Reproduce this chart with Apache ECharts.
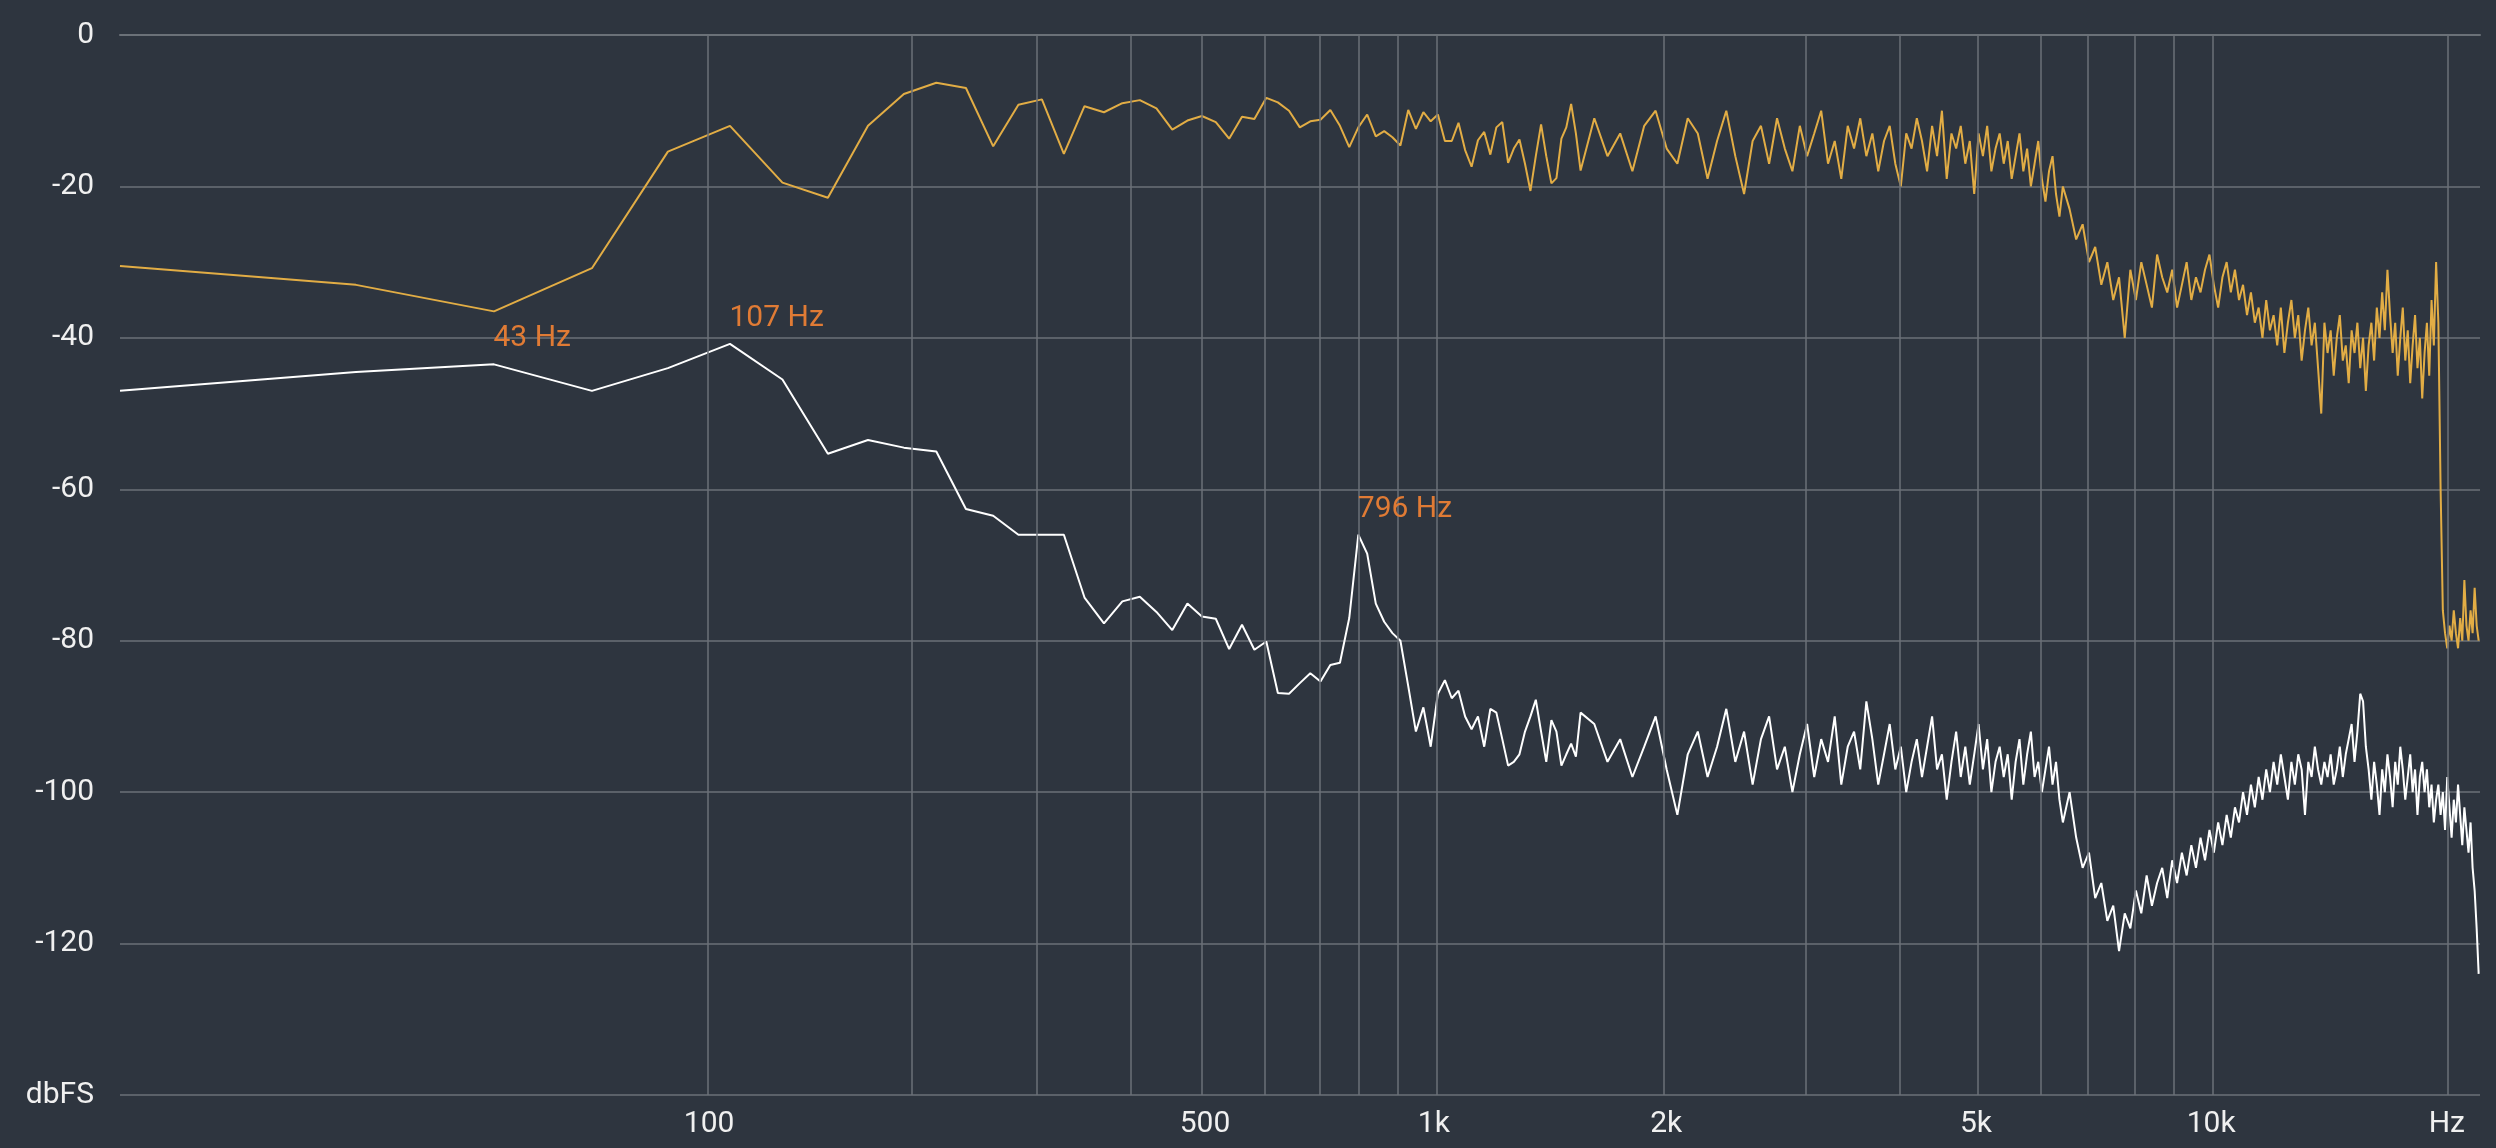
<!DOCTYPE html>
<html>
<head>
<meta charset="utf-8">
<script src="https://cdn.jsdelivr.net/npm/echarts@6/dist/echarts.min.js"></script>
<style>html,body{margin:0;padding:0;background:#2e353f}#main{width:2496px;height:1148px}</style>
</head>
<body>
<div id="main"></div>
<script>
var myChart = echarts.init(document.getElementById('main'));

// FFT bin width (44100 / 2048)
var binHz = 21.533;

// bins 0..72, one value each
var lowWhite = [-47,-44.5,-43.5,-47,-44,-40.8,-45.5,-55.3,-53.5,-54.5,-55,-62.6,-63.5,-66,-66,-66,-74.3,-77.7,-74.8,-74.2,
  -76.2,-78.6,-75.1,-76.8,-77.1,-81.1,-77.9,-81.2,-80.1,-86.9,-87,-85.6,-84.3,-85.4,-83.2,-82.9,-77,-66,-68.5,-75.1,
  -77.5,-79,-80,-86,-92,-88.8,-94,-87,-85.2,-87.6,-86.6,-90,-91.7,-90,-94,-89,-89.5,-93,-96.5,-96,
  -95,-92,-90,-87.8,-92,-96,-90.5,-92,-96.5,-95,-93.6,-95.3,-89.5];
var lowOrange = [-30.5,-33,-36.5,-30.8,-15.4,-12,-19.5,-21.5,-12,-7.8,-6.3,-7,-14.7,-9.2,-8.5,-15.7,-9.4,-10.2,-9,-8.6,
  -9.7,-12.5,-11.3,-10.7,-11.5,-13.7,-10.8,-11.1,-8.3,-8.9,-10,-12.2,-11.4,-11.2,-9.9,-12,-14.8,-12.2,-10.5,-13.4,
  -12.7,-13.5,-14.6,-9.9,-12.4,-10.2,-11.4,-10.5,-14,-14,-11.6,-15.2,-17.4,-13.9,-12.8,-15.8,-12.2,-11.5,-16.9,-15,
  -13.8,-17,-20.6,-16,-11.8,-16,-19.6,-18.9,-13.7,-12.2,-9.1,-13,-17.9];

// bins 75..300, every 3rd bin
var midOrange = [-11,-16,-13,-18,-12,-10,-15,-17,-11,-13,-19,-14,-10,-16,-21,-14,-12,-17,-11,-15,
  -18,-12,-16,-13,-10,-17,-14,-19,-12,-15,-11,-16,-13,-18,-14,-12,-17,-20,-13,-15,
  -11,-14,-18,-12,-16,-10,-19,-13,-15,-12,-17,-14,-21,-13,-16,-12,-18,-15,-13,-17,
  -14,-19,-16,-13,-18,-15,-20,-17,-14,-19,-22,-18,-16,-21,-24,-20];
var midWhite = [-91,-96,-93,-98,-94,-90,-97,-103,-95,-92,-98,-94,-89,-96,-92,-99,-93,-90,-97,-94,
  -100,-95,-91,-98,-93,-96,-90,-99,-94,-92,-97,-88,-93,-99,-95,-91,-97,-94,-100,-96,
  -93,-98,-94,-90,-97,-95,-101,-96,-92,-98,-94,-99,-95,-91,-97,-93,-100,-96,-94,-98,
  -95,-101,-96,-93,-99,-95,-92,-98,-96,-100,-97,-94,-99,-96,-101,-104];

// bins 306..1020, every 6th bin
var highOrange = [-23,-27,-25,-30,-28,-33,-30,-35,-32,-40,
  -31,-35,-30,-33,-36,-29,-32,-34,-31,-36,-33,-30,-35,-32,-34,-31,-29,-33,-36,-32,-30,-34,-31,-35,-33,-37,
  -34,-38,-36,-40,-35,-39,-37,-41,-36,-42,-38,-35,-40,-37,-43,-39,-36,-41,-38,-44,
  -50,
  -38,-42,-39,-45,-40,-37,-43,-41,-46,-39,-42,-38,-44,-40,-47,-41,-38,-43,-36,-40,
  -34,-39,-31,-37,-42,-38,-45,-40,-36,-43,-39,-46,-41,-37,-44,-40,-48,-42,-38,-45,-35,-41,-30,
  -38,-60,-76,-79,-81,-78,-80,-76,-79,-81,-77,-80,-72,-78,-80,-76,-79,-73,-78,-80];
var highWhite = [-100,-106,-110,-108,-114,-112,-117,-115,-121,-116,
  -118,-113,-116,-111,-115,-112,-110,-114,-109,-112,-108,-111,-107,-110,-106,-109,-105,-108,-104,-107,-103,-106,-102,-104,-100,-103,
  -99,-102,-98,-101,-97,-100,-96,-99,-95,-98,-101,-96,-99,-95,-97,-103,-96,-98,-94,-97,
  -99,
  -96,-98,-95,-99,-97,-94,-98,-95,-93,-91,-96,-92,-87,-88,-94,-97,-101,-96,-99,-103,
  -97,-100,-95,-98,-102,-96,-99,-94,-97,-101,-98,-95,-100,-97,-103,-98,-96,-100,-97,-102,-99,-104,-101,
  -99,-103,-100,-105,-98,-102,-106,-101,-104,-99,-103,-107,-102,-105,-108,-104,-110,-113,-118,-124];

var peakBins = [2, 5, 37];
var gridFreqs = [100,200,300,400,500,600,700,800,900,1000,2000,3000,4000,5000,6000,7000,8000,9000,10000,20000];
var labelFreqs = [100, 500, 1000, 2000, 5000, 10000, 20000];
var labelTexts = ['100', '500', '1k', '2k', '5k', '10k', 'Hz'];

function fx(f) { return Math.log10(f / binHz + 1); }

function build(low, mid, high) {
    var out = [];
    for (var i = 0; i < low.length; i++) out.push([Math.log10(i + 1), low[i]]);
    for (var j = 0; j < mid.length; j++) out.push([Math.log10(75 + 3 * j + 1), mid[j]]);
    for (var k = 0; k < high.length; k++) out.push([Math.log10(306 + 6 * k + 1), high[k]]);
    return out;
}

var whiteData = build(lowWhite, midWhite, highWhite);
var orangeData = build(lowOrange, midOrange, highOrange);

var labelVals = labelFreqs.map(fx);

var option = {
    backgroundColor: '#2e353f',
    animation: false,
    grid: { left: 120, right: 16, top: 35, bottom: 53 },
    xAxis: {
        type: 'value',
        min: 0,
        max: Math.log10(1025),
        axisLine: { lineStyle: { color: '#6b7178', width: 2 } },
        axisTick: { show: false },
        splitLine: { show: false },
        axisLabel: {
            customValues: labelVals,
            color: '#f0f0f0',
            fontSize: 30,
            fontFamily: 'Roboto',
            margin: 14,
            formatter: function (v) {
                for (var i = 0; i < labelVals.length; i++) {
                    if (Math.abs(labelVals[i] - v) < 1e-6) return labelTexts[i];
                }
                return '';
            }
        }
    },
    yAxis: {
        type: 'value',
        min: -140,
        max: 0,
        interval: 20,
        axisLine: { show: false },
        axisTick: { show: false },
        splitLine: { lineStyle: { color: '#6b7178', width: 1.5 } },
        axisLabel: {
            color: '#f0f0f0',
            fontSize: 30,
            fontFamily: 'Roboto',
            margin: 26,
            formatter: function (v) { return v === -140 ? 'dbFS' : v; }
        }
    },
    series: [{
        name: 'orange',
        type: 'line',
        data: orangeData,
        showSymbol: false,
        lineStyle: { color: '#e2ad45', width: 2 },
        z: 3,
        markLine: {
            silent: true,
            symbol: 'none',
            label: { show: false },
            lineStyle: { color: '#6b7178', width: 1.5, type: 'solid' },
            data: gridFreqs.map(function (f) { return { xAxis: fx(f) }; })
        }
    }, {
        name: 'white',
        type: 'line',
        data: whiteData,
        showSymbol: false,
        lineStyle: { color: '#ffffff', width: 2 },
        z: 4,
        markPoint: {
            symbol: 'circle',
            symbolSize: 1,
            itemStyle: { color: 'rgba(0,0,0,0)' },
            label: {
                show: true,
                color: '#e07b35',
                fontSize: 30,
                fontFamily: 'Roboto',
                position: [0, -40],
                align: 'left',
                formatter: function (p) { return p.name; }
            },
            data: peakBins.map(function (b) {
                return { name: Math.floor(b * binHz) + ' Hz', coord: [Math.log10(b + 1), lowWhite[b]] };
            })
        }
    }]
};
myChart.setOption(option);
</script>
</body>
</html>
